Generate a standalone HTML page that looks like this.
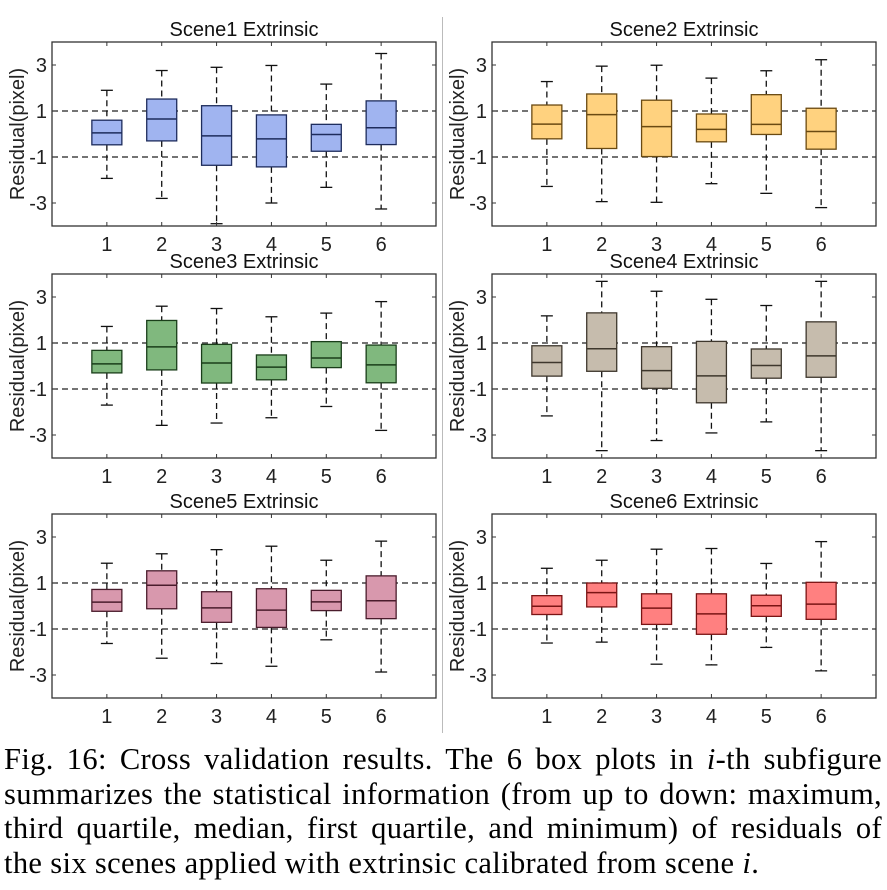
<!DOCTYPE html>
<html><head><meta charset="utf-8"><style>
html,body{margin:0;padding:0;background:#fff;width:887px;height:890px;overflow:hidden}
#cap{position:absolute;left:4px;top:742px;width:878px;font-family:"Liberation Serif",serif;font-size:30.5px;letter-spacing:0.35px;line-height:34.5px;color:#000}
#cap div{text-align:justify;text-align-last:justify;white-space:nowrap}
#cap div.last{text-align-last:left}
svg{position:absolute;left:0;top:0}
</style></head><body>
<svg id="chart" width="887" height="735" font-family="Liberation Sans, sans-serif"></svg>
<div id="cap">
<div>Fig. 16: Cross validation results. The 6 box plots in <i>i</i>-th subfigure</div>
<div>summarizes the statistical information (from up to down: maximum,</div>
<div>third quartile, median, first quartile, and minimum) of residuals of</div>
<div class="last">the six scenes applied with extrinsic calibrated from scene <i>i</i>.</div>
</div>
<script>
const categories=[1,2,3,4,5,6];
const yTicks=[3,1,-1,-3];
const titles=["Scene1 Extrinsic","Scene2 Extrinsic","Scene3 Extrinsic","Scene4 Extrinsic","Scene5 Extrinsic","Scene6 Extrinsic"];
// per panel: [max, q3, median, q1, min] for each scene
const scene1=[[1.9,0.6,0.05,-0.47,-1.93],[2.76,1.52,0.65,-0.3,-2.8],[2.9,1.23,-0.08,-1.36,-3.9],[2.98,0.83,-0.21,-1.43,-3.0],[2.17,0.42,-0.02,-0.75,-2.32],[3.5,1.44,0.27,-0.46,-3.26]];
const scene2=[[2.28,1.26,0.43,-0.21,-2.28],[2.95,1.74,0.84,-0.63,-2.94],[2.99,1.47,0.32,-0.98,-2.97],[2.43,0.87,0.2,-0.34,-2.16],[2.75,1.71,0.42,-0.02,-2.58],[3.23,1.12,0.11,-0.66,-3.2]];
const scene3=[[1.72,0.68,0.09,-0.3,-1.7],[2.6,1.98,0.83,-0.17,-2.58],[2.5,0.94,0.13,-0.74,-2.48],[2.14,0.48,-0.05,-0.6,-2.25],[2.3,1.06,0.35,-0.07,-1.76],[2.8,0.91,0.05,-0.73,-2.8]];
const scene4=[[2.18,0.88,0.15,-0.44,-2.17],[3.68,2.31,0.75,-0.23,-3.68],[3.25,0.84,-0.2,-0.97,-3.24],[2.9,1.07,-0.43,-1.6,-2.91],[2.63,0.74,0.02,-0.53,-2.43],[3.68,1.92,0.44,-0.49,-3.68]];
const scene5=[[1.86,0.72,0.17,-0.23,-1.63],[2.27,1.53,0.9,-0.12,-2.27],[2.45,0.62,-0.08,-0.71,-2.5],[2.6,0.75,-0.18,-0.93,-2.62],[1.99,0.68,0.18,-0.2,-1.47],[2.82,1.31,0.23,-0.55,-2.87]];
const scene6=[[1.64,0.45,-0.01,-0.37,-1.61],[1.99,1.0,0.58,-0.04,-1.57],[2.47,0.53,-0.09,-0.8,-2.53],[2.5,0.53,-0.34,-1.23,-2.56],[1.85,0.47,0.01,-0.45,-1.8],[2.8,1.03,0.08,-0.58,-2.82]];
const panelsData=[scene1,scene2,scene3,scene4,scene5,scene6];
const fills=["#a0b4f0","#ffd27f","#80b87e","#c6bcad","#d898ad","#ff8080"];
const strokes=["#1e2c5c","#6a4a12","#1a3e1a","#3e372d","#4a1c2c","#7a1414"];
const layout=[[52,42],[492,42],[52,274],[492,274],[52,514],[492,514]];
const W=384,H=184;
const NS="http://www.w3.org/2000/svg";
const svg=document.getElementById('chart');
function mk(t,a,p){const e=document.createElementNS(NS,t);for(const k in a)e.setAttribute(k,a[k]);(p||svg).appendChild(e);return e;}
const sep=mk('line',{x1:442.5,y1:17,x2:442.5,y2:733,stroke:'#bbb','stroke-width':1});


panelsData.forEach((data,pi)=>{
  const [L,T]=layout[pi];
  const g=mk('g',{});
  
  
  const xs=v=>L+v/7*W, ys=v=>T+(4-v)/8*H;
  [1,-1].forEach(v=>{const l=mk('line',{x1:L,x2:L+W,y1:ys(v),y2:ys(v),stroke:'#222','stroke-width':1.3,'stroke-dasharray':'6,4'},g);
    
    });
  data.forEach((d,i)=>{
    const cx=xs(categories[i]);const [mx,q3,md,q1,mn]=d;
    const bg=mk('g',{},g);
    
    
    mk('line',{x1:cx,x2:cx,y1:ys(mx),y2:ys(q3),stroke:'#111','stroke-width':1.3,'stroke-dasharray':'6,4'},bg);
    mk('line',{x1:cx,x2:cx,y1:ys(q1),y2:ys(mn),stroke:'#111','stroke-width':1.3,'stroke-dasharray':'6,4'},bg);
    mk('line',{x1:cx-6,x2:cx+6,y1:ys(mx),y2:ys(mx),stroke:'#111','stroke-width':1.3},bg);
    mk('line',{x1:cx-6,x2:cx+6,y1:ys(mn),y2:ys(mn),stroke:'#111','stroke-width':1.3},bg);
    mk('rect',{x:cx-15,y:ys(q3),width:30,height:ys(q1)-ys(q3),fill:fills[pi],stroke:strokes[pi],'stroke-width':1.3},bg);
    mk('line',{x1:cx-15,x2:cx+15,y1:ys(md),y2:ys(md),stroke:strokes[pi],'stroke-width':1.5},bg);
  });
  const fr=mk('rect',{x:L,y:T,width:W,height:H,fill:'none',stroke:'#333','stroke-width':1.3},g);
  
  
  categories.forEach(c=>{const x=xs(c);
    mk('line',{x1:x,x2:x,y1:T+H,y2:T+H-4,stroke:'#333','stroke-width':1},g);
    mk('line',{x1:x,x2:x,y1:T,y2:T+4,stroke:'#333','stroke-width':1},g);
    const t=mk('text',{x:x,y:T+H+25,'text-anchor':'middle','font-size':20,fill:'#222'},g);t.textContent=c;
    
    });
  yTicks.forEach(v=>{const y=ys(v);
    mk('line',{x1:L,x2:L+4,y1:y,y2:y,stroke:'#333','stroke-width':1},g);
    mk('line',{x1:L+W,x2:L+W-4,y1:y,y2:y,stroke:'#333','stroke-width':1},g);
    const t=mk('text',{x:L-5,y:y+7,'text-anchor':'end','font-size':20,fill:'#222'},g);t.textContent=v;
    
    });
  const tt=mk('text',{x:L+W/2,y:T-6,'text-anchor':'middle','font-size':20,fill:'#111'},g);tt.textContent=titles[pi];
  
  
  const yl=mk('text',{x:0,y:0,'text-anchor':'middle','font-size':20,fill:'#222',transform:`translate(${L-28},${T+H/2}) rotate(-90)`},g);yl.textContent='Residual(pixel)';
  
  
});
</script>
</body></html>
